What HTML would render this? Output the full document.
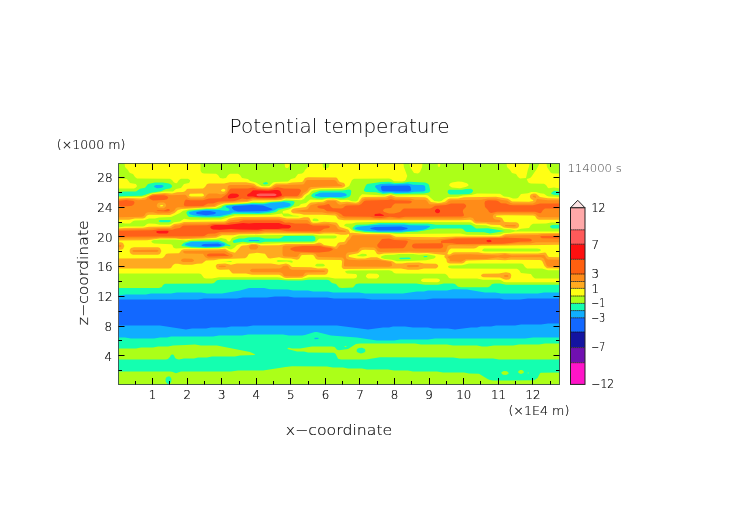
<!DOCTYPE html>
<html><head><meta charset="utf-8"><title>Potential temperature</title>
<style>
html,body{margin:0;padding:0;background:#fff;width:752px;height:532px;overflow:hidden}
svg{display:block;position:absolute;left:0;top:0}
#txt{will-change:transform}
text{font-family:"DejaVu Sans","Liberation Sans",sans-serif;font-weight:200}
</style></head><body>
<svg width="752" height="532" viewBox="0 0 752 532">
<rect width="752" height="532" fill="#fff"/>
<defs><clipPath id="pc"><rect x="118.5" y="163.5" width="441" height="221"/></clipPath></defs>
<g id="field" clip-path="url(#pc)">
<rect x="118.5" y="163.5" width="441.1" height="221.0" fill="#1268ff"/>
<path fill="#10aeff" fill-rule="evenodd" d="M118.0 163.0 560.1 163.0 560.1 298.5 528.0 298.5 520.0 299.5 504.0 299.5 500.0 298.6 495.0 298.5 433.0 298.5 425.0 299.5 372.0 299.5 364.0 298.5 334.0 298.5 327.0 297.5 294.0 297.5 288.0 296.5 275.0 296.5 267.0 297.5 243.0 297.5 237.0 298.5 204.0 298.5 198.0 299.5 118.0 299.5ZM203.0 210.9 197.1 212.0 195.8 213.0 197.1 214.0 206.0 215.2 214.0 214.3 216.2 213.0 215.0 211.9 210.0 211.0ZM252.0 205.0 234.0 206.0 232.0 207.0 231.9 208.0 234.0 210.3 238.0 211.4 266.0 211.0 271.2 210.0 272.7 209.0 263.0 205.5ZM375.0 226.9 370.5 228.0 370.5 229.0 378.0 230.4 397.0 230.4 402.0 230.3 407.5 229.0 407.5 228.0 407.0 227.8 401.0 226.6ZM382.0 185.7 380.9 187.0 381.5 190.0 382.5 191.0 384.0 191.3 408.0 191.4 410.4 191.0 411.2 190.0 410.6 187.0 409.8 186.0 408.0 185.4ZM204.0 243.9 201.4 245.0 201.9 246.0 206.0 246.5 218.0 246.3 220.3 246.0 222.0 245.0 218.0 243.6ZM544.5 324.0 548.0 323.5 560.1 323.5 560.1 385.0 118.0 385.0 118.0 325.5 160.0 325.5 186.0 329.5 192.0 328.5 206.0 328.5 211.0 327.5 226.0 327.5 231.0 326.5 247.0 326.5 253.0 325.5 332.0 325.5 337.0 325.6 368.0 329.4 383.0 327.5 389.0 327.4 393.0 326.5 405.0 326.5 413.0 327.5 428.0 327.5 433.0 328.5 448.0 328.5 455.0 329.5 471.0 327.5 477.0 327.4 481.0 326.5 491.0 326.5 496.0 325.5 515.0 325.5 521.0 324.5 541.0 324.5Z"/>
<path fill="#14ffb0" fill-rule="evenodd" d="M118.0 163.0 560.1 163.0 560.1 292.5 544.0 292.5 538.0 293.5 501.0 293.5 495.0 292.5 485.0 292.4 467.0 289.6 453.0 289.3 447.0 290.4 428.0 290.5 424.0 291.4 417.0 291.6 403.0 293.5 365.0 293.5 359.0 292.5 333.0 292.5 328.0 291.5 313.0 291.5 308.0 290.5 293.0 290.4 288.0 289.4 270.0 289.3 264.0 288.0 252.0 288.0 249.0 288.1 240.0 290.4 222.0 293.5 207.0 293.5 201.0 292.5 177.0 292.5 171.0 293.5 151.0 293.5 146.0 294.5 126.0 294.5 118.0 295.5ZM156.0 184.9 154.1 186.0 154.2 187.0 157.0 188.2 161.0 188.1 163.1 187.0 163.6 186.0 162.0 184.9ZM284.0 202.0 272.0 202.7 264.0 204.3 252.0 203.9 233.0 205.1 226.1 206.0 225.7 207.0 229.0 208.7 229.7 210.0 228.0 210.9 219.0 209.9 205.0 209.8 194.0 211.0 189.5 212.0 188.8 213.0 190.0 214.3 193.0 215.3 201.0 216.2 208.0 216.4 219.8 216.0 229.7 214.0 233.0 212.4 258.0 212.9 268.0 212.1 274.0 210.5 278.0 208.3 287.3 207.0 289.9 206.0 290.8 205.0 290.5 204.0 289.0 202.9ZM320.0 192.8 315.0 194.8 315.1 196.0 321.0 197.1 341.0 197.1 345.9 196.0 347.1 195.0 345.0 193.3 341.0 192.5 323.0 192.4ZM375.0 225.0 358.0 226.7 354.9 228.0 355.2 229.0 357.0 229.6 365.0 230.8 379.0 231.7 401.0 231.8 423.0 229.7 425.8 229.0 429.5 227.0 430.2 226.0 427.0 225.4 410.0 225.2 404.0 224.4 381.0 224.4ZM381.0 183.9 376.0 185.3 375.1 186.0 375.1 187.0 378.8 191.0 383.0 192.7 391.0 192.3 396.0 192.9 409.0 192.8 414.0 191.8 423.0 191.6 424.8 191.0 425.4 190.0 425.1 186.0 423.0 184.9 413.0 184.7 408.0 183.6 394.0 184.2 389.0 183.5ZM490.0 230.7 489.2 231.0 491.6 231.0 491.0 230.8ZM192.0 241.8 186.0 243.6 184.8 245.0 191.0 246.4 206.0 247.3 219.0 247.1 223.4 246.0 224.9 245.0 224.7 244.0 224.0 243.6 218.0 241.7ZM250.0 239.9 249.0 240.0 248.7 241.0 259.5 241.0 259.0 240.0ZM314.7 332.0 317.0 331.9 331.0 335.4 357.0 337.6 377.0 340.5 394.0 340.5 400.0 339.5 428.0 339.5 435.0 338.5 525.0 338.5 533.0 337.5 560.1 337.5 560.1 385.0 118.0 385.0 118.0 337.5 125.0 337.5 131.0 338.5 154.0 338.5 160.0 337.5 167.0 337.4 171.0 336.5 213.0 336.5 219.0 335.5 242.0 335.5 248.0 334.5 283.0 334.5 289.0 335.5 302.0 335.5 305.0 335.1ZM315.0 337.8 314.5 338.0 314.5 339.0 315.0 339.2 318.5 339.0 318.5 338.0 318.0 337.8Z"/>
<path fill="#acff18" fill-rule="evenodd" d="M118.0 163.0 560.1 163.0 560.1 191.6 554.0 190.7 551.2 193.0 551.4 194.0 554.4 195.0 560.1 195.3 560.1 224.8 552.0 224.9 550.1 226.0 550.1 227.0 552.0 228.4 560.1 228.5 560.1 284.8 506.0 284.8 500.0 283.6 495.0 283.5 492.0 284.0 490.0 286.2 488.0 287.2 461.0 287.2 458.0 286.8 455.0 284.0 453.0 283.5 444.0 283.5 438.0 284.7 425.0 284.8 416.0 283.5 359.0 283.5 356.0 284.0 353.0 287.6 342.0 288.0 339.0 287.6 336.0 284.0 332.0 283.0 329.0 280.2 327.0 279.8 308.0 279.8 302.0 280.6 288.0 280.6 278.0 279.8 220.0 279.8 217.0 280.2 214.0 283.0 212.0 283.5 165.0 283.7 163.0 285.0 161.9 287.0 159.0 288.0 118.0 288.0 118.0 226.0 119.0 226.0 118.0 225.7 118.0 196.2 142.0 195.8 151.0 192.7 161.0 191.2 166.0 188.9 170.0 188.4 171.9 187.0 172.1 186.0 171.0 184.4 169.0 183.6 163.0 182.4 155.0 182.4 148.0 184.0 145.0 187.7 140.0 188.7 136.0 191.4 124.0 191.6 118.0 192.3ZM263.0 182.9 263.4 184.0 265.0 184.4 267.6 184.0 268.1 183.0 266.0 182.1ZM284.0 200.8 281.0 201.5 272.0 201.7 263.0 203.2 252.0 202.9 248.0 203.6 226.0 204.9 223.1 206.0 221.0 208.1 216.0 208.9 207.0 208.9 189.0 210.6 187.0 211.4 186.3 213.0 187.8 216.0 189.4 217.0 203.0 217.6 220.0 217.5 234.0 214.0 258.0 214.1 269.0 213.5 276.0 211.9 279.0 209.8 290.0 207.5 293.4 205.0 294.8 202.0 293.0 200.9ZM346.0 190.0 342.0 190.5 320.0 190.7 313.7 193.0 312.0 194.3 311.1 196.0 313.0 197.4 317.0 198.5 322.0 198.6 330.0 197.8 344.0 198.4 349.1 197.0 350.8 195.0 351.3 191.0 350.6 190.0 349.0 189.6ZM381.0 181.9 367.0 184.0 365.5 186.0 363.9 190.0 364.0 191.0 366.0 192.1 376.0 192.3 383.0 194.0 391.0 193.3 395.0 194.0 400.0 194.1 424.0 193.4 429.0 192.4 430.3 191.0 429.0 185.0 428.0 183.8 425.0 182.5 409.0 181.8 403.0 182.8 395.0 182.9 389.0 181.8ZM466.0 189.0 462.0 189.8 449.0 189.7 448.0 190.4 447.6 192.0 448.0 193.2 450.0 194.4 458.0 194.6 469.0 193.9 471.7 193.0 473.1 191.0 472.9 190.0 471.0 188.7ZM160.0 220.0 158.5 221.0 159.7 222.0 161.0 222.2 169.0 222.2 171.4 221.0 170.0 219.9ZM190.0 240.9 184.0 242.8 181.6 245.0 181.6 246.0 191.0 247.5 205.0 247.9 219.0 247.7 227.0 245.8 229.0 246.3 230.6 246.0 230.0 245.1 228.0 244.6 225.0 242.5 219.0 240.3ZM284.0 235.9 281.0 238.0 279.0 238.5 265.0 238.5 259.0 237.3 248.0 237.4 244.0 238.4 239.0 238.6 234.0 240.0 232.9 241.0 232.9 242.0 234.0 242.9 243.0 241.7 248.0 242.6 254.0 242.2 260.0 242.7 265.0 241.7 312.0 241.4 314.6 241.0 315.3 240.0 315.3 237.0 313.0 235.8ZM379.0 223.0 368.0 224.4 357.0 224.8 355.0 225.6 352.5 228.0 353.0 229.2 356.0 230.6 365.0 231.9 378.0 232.5 401.0 232.7 407.0 231.9 417.0 231.8 436.0 228.5 461.0 228.5 463.0 229.0 465.0 231.2 467.0 232.1 484.0 232.2 490.0 233.5 504.9 231.0 488.0 228.2 476.0 228.4 472.0 225.4 470.0 224.8 436.0 224.8 428.0 223.5 411.0 223.5 404.0 222.9ZM400.0 257.8 399.5 258.0 399.5 259.0 401.0 259.3 410.5 259.0 410.5 258.0 409.0 257.6ZM424.0 255.9 423.5 257.0 424.0 257.2 427.4 257.0 427.0 255.9ZM355.9 344.0 360.0 343.5 415.0 343.5 421.0 344.5 447.0 344.5 453.0 345.5 477.0 345.5 482.0 346.4 487.0 346.5 494.0 345.5 513.0 345.5 519.0 344.5 539.0 344.5 545.0 343.5 560.1 343.5 560.1 359.5 499.0 359.5 493.0 358.5 460.0 358.5 453.0 357.5 380.0 357.3 366.0 359.5 341.0 359.5 338.0 358.8 335.7 354.0 334.0 352.7 308.0 352.5 304.0 351.6 297.0 351.4 287.6 349.0 287.7 348.0 289.0 347.8 292.0 348.5 300.0 348.5 312.0 346.5 332.0 346.5 334.7 347.0 337.0 349.8 339.0 350.3 348.0 349.0ZM359.0 347.9 357.0 349.1 356.6 351.0 357.0 352.0 359.0 353.1 361.0 353.4 363.0 353.1 365.0 352.0 365.4 351.0 365.0 349.0 362.0 347.7ZM185.5 345.0 195.0 344.5 201.0 345.5 217.0 345.6 250.0 351.9 254.4 354.0 255.1 355.0 240.0 355.5 235.0 356.5 212.0 356.5 207.0 357.5 198.0 357.5 194.0 358.4 184.0 358.5 179.0 359.4 176.7 359.0 175.1 358.0 174.0 355.6 173.0 354.6 172.0 354.5 171.0 355.0 169.9 357.0 168.0 358.9 166.0 359.4 118.0 359.5 118.0 348.5 136.0 348.5 141.0 347.5 153.0 347.5 158.0 346.5 168.0 346.5 173.0 345.5ZM344.7 346.0 346.3 346.0 346.4 347.0 344.7 347.0ZM285.5 367.0 292.0 366.3 327.0 366.5 333.0 367.5 343.0 367.5 348.0 368.5 362.0 368.5 367.0 369.5 388.0 369.5 394.0 370.5 408.0 370.5 413.0 371.5 437.0 371.5 443.0 372.5 464.0 372.5 469.0 373.5 479.0 373.7 488.0 379.3 490.0 380.1 493.0 380.5 534.0 380.3 537.5 378.0 540.0 373.3 541.0 372.7 560.1 372.5 560.1 385.0 169.4 385.0 169.4 384.0 171.2 382.0 171.5 379.0 170.4 377.0 169.0 376.3 166.6 377.0 165.5 379.0 165.8 382.0 167.6 384.0 167.6 385.0 118.0 385.0 118.0 371.5 170.0 371.5 172.0 371.7 176.0 373.2 181.0 371.5 231.0 371.5 238.0 370.5 263.0 370.5ZM520.3 370.0 522.0 370.1 523.4 371.0 523.9 372.0 523.5 373.0 521.0 374.1 518.6 373.0 518.1 372.0 518.6 371.0ZM503.9 371.0 507.0 371.3 508.8 373.0 508.2 374.0 506.0 375.0 503.0 374.7 501.2 373.0 501.8 372.0ZM527.5 373.0 528.0 372.6 529.4 373.0 528.0 373.4Z"/>
<path fill="#ffff14" fill-rule="evenodd" d="M124.5 163.0 200.5 163.0 200.6 171.0 202.0 173.0 204.0 173.5 216.0 173.7 218.0 175.0 220.0 178.0 223.0 178.5 226.0 178.0 228.0 175.0 230.0 173.7 238.0 173.7 240.0 175.0 242.0 178.0 247.9 179.0 250.1 181.0 256.0 182.4 261.7 186.0 264.0 186.3 269.2 186.0 273.0 182.5 275.0 181.9 288.0 181.4 291.0 179.0 295.0 178.0 298.0 174.0 302.0 173.4 304.0 172.0 305.0 170.0 308.0 166.9 308.5 163.0 322.5 163.0 323.0 167.0 324.0 168.0 326.0 168.4 328.0 168.0 329.0 167.0 329.5 163.0 403.5 163.0 403.9 167.0 407.3 176.0 405.7 180.0 404.6 181.0 402.0 181.4 394.0 181.2 391.0 179.0 389.0 178.6 354.0 178.7 352.0 180.1 349.2 186.0 344.0 188.7 341.0 189.1 321.0 189.2 313.0 190.5 312.0 191.0 309.0 194.2 306.2 196.0 303.9 199.0 301.0 200.2 286.0 199.5 280.0 200.9 263.0 201.9 253.0 201.7 247.0 203.0 226.0 204.0 223.0 204.7 215.6 208.0 207.0 208.1 189.0 209.5 183.0 210.7 180.0 213.0 171.0 217.1 159.0 217.4 155.0 218.4 149.0 218.6 144.0 220.2 135.0 220.4 133.2 221.0 130.0 223.4 125.0 223.5 118.0 222.3 118.0 197.5 127.0 197.0 141.0 197.1 145.0 196.2 152.0 193.4 165.0 191.6 173.0 191.4 176.0 189.1 181.0 188.0 184.0 184.0 189.0 183.0 190.2 181.0 189.9 180.0 188.0 178.7 181.0 178.7 179.0 180.0 177.0 183.0 176.0 183.3 174.0 182.6 172.0 180.0 170.0 178.7 137.0 178.4 135.0 177.0 133.0 174.0 130.0 173.0 129.0 172.0 128.0 170.0 125.0 166.9ZM284.5 163.0 289.5 163.0 289.3 166.0 288.0 167.9 286.0 167.9 285.1 167.0ZM409.5 163.0 422.5 163.0 422.1 167.0 420.0 172.0 418.0 173.4 414.0 173.0 410.0 167.0ZM437.7 163.0 440.3 163.0 440.2 166.0 439.0 167.2 437.8 166.0ZM506.5 163.0 529.5 163.0 529.2 166.0 527.8 170.0 526.0 178.1 520.0 178.4 518.0 177.0 516.0 174.0 512.0 173.0 510.0 170.0 507.0 167.0ZM539.2 163.0 546.5 163.0 547.0 167.0 551.0 173.0 553.0 173.5 560.1 173.5 560.1 188.5 554.0 187.5 549.0 188.3 548.0 188.0 546.0 185.0 544.0 183.7 531.0 183.5 529.0 183.0 528.0 182.0 526.7 179.0 530.0 178.0 531.2 177.0 536.7 169.0 539.2 164.0ZM118.0 179.0 118.0 178.5 126.9 179.0 130.0 183.0 135.9 184.0 137.1 186.0 136.0 187.6 134.0 188.4 118.0 188.5ZM455.0 182.0 458.0 181.5 462.0 181.8 467.0 183.3 468.8 185.0 467.9 186.0 465.5 187.0 460.0 188.2 452.0 187.4 449.6 186.0 449.1 185.0 450.0 183.6 452.0 182.6ZM531.4 192.0 536.0 191.9 540.0 193.3 544.0 193.7 547.1 196.0 549.0 196.6 560.1 196.9 560.1 222.3 551.0 222.4 546.0 223.5 533.0 223.7 531.0 225.0 529.0 228.0 521.0 228.8 516.0 230.5 510.0 229.3 504.0 229.0 500.0 227.5 491.0 226.8 486.0 225.3 476.0 225.1 471.0 222.5 469.0 222.3 380.0 221.7 356.0 222.4 352.0 223.4 346.0 223.7 344.2 225.0 344.5 226.0 349.0 227.4 352.0 230.2 356.0 231.9 366.0 232.9 390.0 233.3 396.0 234.0 460.0 233.5 467.0 234.7 491.0 235.1 500.0 234.6 504.0 233.1 510.0 232.7 515.0 231.5 560.1 231.5 560.1 270.3 548.0 270.3 542.0 268.6 527.0 268.4 525.0 267.0 523.0 264.0 521.0 263.6 469.0 263.6 462.0 265.3 450.0 265.5 448.3 266.0 448.1 267.0 449.0 268.0 452.0 268.5 517.0 268.7 519.0 270.0 521.0 273.0 530.9 274.0 533.0 277.0 535.0 278.4 560.1 278.5 560.1 282.2 506.0 282.2 504.0 281.9 501.0 280.2 499.0 279.8 483.0 279.8 477.0 278.5 451.0 278.5 449.0 278.0 447.0 275.0 445.0 273.7 396.0 273.5 394.0 273.0 392.0 271.0 389.0 270.3 349.0 270.4 345.5 271.0 345.2 272.0 347.0 273.4 356.0 274.0 357.0 275.2 356.9 277.0 356.0 278.0 354.0 278.5 335.0 278.5 328.0 277.3 309.0 277.3 301.0 279.1 285.0 279.1 280.0 277.5 277.0 277.3 219.0 277.2 212.0 278.5 206.0 278.5 204.0 278.0 201.0 274.0 199.0 273.6 118.0 273.5 118.0 227.4 125.0 226.4 143.0 226.4 144.6 226.0 147.0 224.0 149.0 223.6 155.0 223.7 160.0 224.7 169.0 224.7 171.0 224.1 174.0 222.2 180.0 221.4 184.0 218.7 191.0 219.8 221.0 219.6 235.0 215.5 270.0 215.1 282.0 213.5 283.4 216.0 285.0 216.5 298.0 216.4 299.6 216.0 293.0 215.4 288.0 213.6 283.0 213.5 282.6 212.0 283.2 211.0 289.0 209.6 293.0 207.2 298.9 206.0 301.0 204.0 306.0 203.1 310.0 199.6 322.0 200.1 327.0 198.8 335.0 198.7 340.0 200.0 348.0 199.8 352.0 201.2 356.0 201.4 358.0 200.2 359.4 197.0 362.0 194.3 384.0 195.4 390.0 194.2 396.0 195.4 426.0 195.1 428.0 195.6 434.4 201.0 439.0 201.4 441.5 201.0 444.0 198.9 448.0 197.1 458.0 196.7 463.0 195.4 471.0 195.0 477.0 193.5 500.0 193.7 504.0 196.4 509.0 197.1 513.0 198.4 516.0 198.5 518.0 198.0 521.0 194.0 528.0 193.3ZM362.0 253.7 360.0 254.6 356.4 256.0 363.0 256.6 366.5 256.0 366.8 255.0 366.0 254.0ZM399.0 254.0 394.0 254.7 385.3 255.0 382.0 255.9 380.8 257.0 381.5 258.0 384.9 259.0 392.0 259.8 397.0 261.2 402.0 261.3 426.0 260.3 434.0 258.5 435.8 257.0 435.0 255.7 427.0 254.3 419.0 254.8 413.0 254.0ZM484.0 248.6 482.2 250.0 482.5 251.0 485.0 251.6 538.0 251.6 540.5 251.0 540.8 250.0 540.0 249.0 537.0 248.5ZM282.0 234.9 239.0 235.6 232.0 238.0 230.0 241.2 229.0 241.6 228.0 241.2 226.0 239.0 221.0 238.1 216.0 239.1 192.0 239.5 186.0 240.4 175.0 239.4 160.0 239.4 154.0 240.1 151.3 241.0 152.0 242.6 154.0 243.5 171.0 244.2 172.4 245.0 173.1 247.0 174.0 248.0 176.0 248.5 185.0 247.9 205.0 248.6 218.0 248.4 226.0 247.4 229.0 249.0 231.0 249.4 234.0 248.0 237.0 245.1 242.0 243.6 247.0 243.8 254.0 243.1 260.0 244.0 286.0 242.9 313.0 242.8 316.0 242.1 318.8 239.0 320.0 238.6 334.0 238.5 336.0 238.0 336.8 237.0 336.5 236.0 335.0 235.5 319.0 235.6 313.0 234.6ZM314.0 218.6 313.0 219.1 312.5 220.0 313.0 221.1 317.0 221.3 318.2 221.0 318.8 220.0 317.0 218.7ZM220.0 260.9 219.0 261.0 226.0 261.3 230.0 262.1 231.1 262.0 232.0 261.0ZM278.0 260.0 276.5 261.0 278.0 262.1 287.0 261.5 292.0 262.7 292.8 262.0 292.4 261.0 291.0 260.5ZM317.0 263.7 315.2 265.0 315.5 266.0 317.0 266.5 323.0 266.5 324.6 266.0 324.8 265.0 323.0 263.7ZM367.1 274.0 369.0 273.6 377.0 273.7 378.9 275.0 379.2 276.0 378.9 277.0 377.0 278.4 368.0 278.4 366.1 277.0 365.8 276.0ZM422.1 279.0 424.0 278.5 437.0 278.5 439.0 279.0 439.9 280.0 439.9 281.0 438.4 282.0 437.0 282.2 423.0 282.1 421.1 281.0 421.1 280.0Z"/>
<path fill="#ffaa20" fill-rule="evenodd" d="M305.0 178.0 308.0 177.3 336.0 177.5 337.0 178.0 339.0 181.3 340.0 182.0 344.0 183.0 345.2 185.0 345.1 186.0 344.0 187.1 342.0 187.8 321.0 187.9 312.0 188.9 310.1 190.0 308.0 192.6 304.2 195.0 302.0 197.7 299.0 198.7 285.0 198.6 281.0 199.9 278.0 200.2 253.0 200.4 247.0 202.1 224.0 203.4 219.1 205.0 215.0 207.1 181.8 209.0 177.9 210.0 174.6 213.0 170.0 215.0 149.0 214.8 147.0 215.6 145.0 217.7 143.0 218.4 135.0 218.6 129.0 219.8 118.0 219.8 118.0 198.5 127.0 197.9 141.0 198.4 145.0 197.4 152.6 194.0 165.0 192.9 172.0 193.5 177.0 192.3 183.0 192.1 185.0 191.2 187.0 189.0 188.0 188.7 203.0 188.4 205.0 187.0 207.0 184.0 209.0 183.6 224.0 183.5 230.0 182.3 246.0 182.3 254.0 183.8 257.0 186.1 261.0 187.2 269.0 187.4 271.0 186.8 274.0 184.4 276.0 183.6 287.0 183.5 292.0 182.4 302.0 182.0 303.0 181.3ZM161.0 204.9 159.6 206.0 161.0 206.5 163.4 206.0 162.6 205.0ZM190.0 193.8 189.0 195.0 189.3 196.0 191.0 196.6 202.0 196.6 203.7 196.0 204.0 195.0 203.0 193.8 202.0 193.6ZM223.0 188.7 221.1 190.0 221.1 191.0 223.0 191.8 225.0 191.3 225.4 190.0 225.0 189.2ZM531.6 194.0 534.0 193.5 536.0 193.8 540.0 197.0 548.0 198.3 560.1 198.5 560.1 219.8 539.0 219.7 537.0 219.0 535.0 216.0 533.0 215.4 504.0 215.3 497.0 215.5 495.6 216.0 496.4 217.0 500.0 217.3 502.0 218.0 504.0 221.5 505.0 222.1 516.0 222.3 518.0 223.0 519.2 225.0 518.7 227.0 517.0 228.2 514.0 228.5 504.0 227.6 500.0 224.9 491.0 224.7 486.0 223.6 476.0 223.4 474.0 222.4 472.0 220.5 470.0 219.8 460.0 220.2 344.0 220.2 339.0 219.6 338.0 219.0 336.0 216.0 335.0 215.5 322.0 214.8 304.0 214.7 300.0 213.7 293.0 213.2 291.4 212.0 291.0 211.0 292.0 209.6 294.0 208.6 306.0 207.0 309.0 203.7 311.0 202.4 323.0 201.7 327.0 199.8 333.0 199.5 336.0 199.8 341.0 202.2 347.0 201.8 356.0 202.8 358.5 202.0 362.0 197.5 365.0 196.9 385.0 196.8 391.0 195.1 396.0 196.8 425.0 197.3 427.2 198.0 431.0 202.1 438.0 202.9 441.0 202.7 445.0 201.7 448.0 199.3 450.0 198.6 458.0 198.4 464.0 197.3 496.0 196.8 508.0 198.8 512.0 201.6 529.0 201.7 533.4 201.0 533.0 200.0 531.0 199.0 529.8 197.0 530.3 195.0ZM241.2 217.0 279.0 216.8 287.0 218.5 299.0 218.5 304.0 217.3 308.0 217.3 309.4 218.0 311.4 222.0 313.0 222.7 317.0 222.8 324.0 221.7 336.0 222.5 337.0 223.0 339.9 227.0 348.0 229.4 349.3 231.0 350.0 233.1 352.0 232.8 366.0 234.1 390.0 234.3 396.0 236.7 439.0 237.2 456.0 236.4 499.0 236.4 501.0 236.1 505.0 234.2 514.0 233.6 560.1 232.9 560.1 244.8 482.0 245.8 479.0 246.1 476.0 248.0 474.0 248.5 451.0 248.6 449.0 250.0 447.3 254.0 448.0 254.5 450.0 254.4 453.0 252.4 455.0 252.2 478.0 252.2 483.0 253.2 492.0 253.5 505.0 252.9 511.0 253.5 538.0 253.5 545.0 252.5 546.0 253.0 548.0 256.3 549.0 257.0 560.1 257.2 560.1 268.5 547.0 268.2 544.5 266.0 542.0 260.7 540.0 259.9 511.0 259.8 505.0 260.2 496.0 259.8 468.0 260.5 466.0 260.8 464.0 262.7 462.0 263.4 450.0 263.5 448.0 263.0 446.9 262.0 446.3 259.0 444.3 257.0 444.8 255.0 444.0 254.9 427.0 252.9 419.0 253.3 409.0 252.7 384.0 253.5 379.0 254.6 377.0 254.0 375.0 250.8 374.0 250.0 365.0 249.8 362.0 250.0 358.0 253.2 349.2 255.0 348.3 256.0 349.4 257.0 357.0 258.5 365.0 258.5 371.0 257.2 377.0 257.3 382.0 259.4 392.0 260.9 396.0 263.5 402.0 263.6 407.0 262.7 419.0 262.5 424.0 263.5 436.0 263.7 437.9 265.0 438.2 266.0 437.9 267.0 436.0 268.4 424.0 268.6 418.0 269.8 408.0 269.8 401.0 268.5 344.0 268.9 343.0 268.7 341.7 267.0 342.1 261.0 340.8 260.0 318.0 259.7 316.0 259.0 314.0 255.7 313.0 255.0 311.0 254.8 302.0 255.0 301.0 255.7 299.0 259.0 297.0 259.7 291.0 258.5 284.0 258.3 279.0 257.2 270.0 258.5 268.0 258.0 265.0 253.7 257.0 252.8 249.0 253.7 247.0 257.0 245.0 258.3 219.0 259.2 214.0 260.2 206.0 260.4 202.0 263.4 197.0 263.7 192.0 264.8 183.0 264.8 178.0 263.7 175.0 263.7 173.0 265.0 171.0 268.0 169.0 268.5 118.0 268.5 118.0 258.5 162.0 258.3 164.0 257.0 166.0 254.0 168.0 253.5 179.0 253.2 181.7 250.0 184.0 249.2 218.0 249.2 225.0 248.8 230.0 251.6 235.0 252.7 241.1 246.0 243.0 245.4 247.0 245.3 251.7 244.0 256.0 244.1 261.0 245.4 279.0 245.3 286.0 244.1 314.0 244.0 319.0 242.5 321.0 243.0 324.0 245.1 335.0 246.7 336.2 246.0 338.0 243.0 340.0 242.3 344.0 242.0 345.0 241.3 346.9 238.0 349.1 236.0 349.0 234.1 346.0 234.7 341.0 234.8 334.0 233.5 324.0 233.6 319.0 234.1 312.0 233.5 265.0 233.5 259.0 234.1 239.0 234.2 233.0 235.2 222.0 235.3 216.0 237.8 203.0 238.5 182.0 239.2 176.0 238.5 160.0 238.4 147.0 240.2 118.0 240.4 118.0 228.5 125.0 227.9 143.0 227.8 149.0 226.8 170.0 226.5 174.0 224.0 180.0 223.2 184.0 221.9 224.0 221.5 226.0 221.0 229.0 218.8 235.0 217.4ZM118.0 243.0 118.0 242.2 121.0 242.2 123.0 243.0 124.4 246.0 123.0 249.0 121.0 249.7 118.0 249.8ZM131.0 248.0 134.0 247.2 158.0 247.3 160.0 248.0 161.4 251.0 160.0 254.0 158.0 254.7 133.0 254.7 131.0 254.0 129.7 252.0 129.7 250.0ZM217.1 264.0 225.0 263.6 231.0 264.8 237.0 263.6 271.0 263.5 279.0 264.8 286.0 263.6 289.0 264.4 292.0 267.0 311.0 267.3 318.0 268.5 326.0 268.2 327.7 269.0 328.4 271.0 327.0 274.0 325.0 274.7 308.0 274.8 302.0 277.8 286.0 277.9 284.0 277.6 281.0 275.5 279.0 274.8 252.0 274.7 246.0 273.6 233.0 273.4 232.0 273.0 229.0 269.4 220.0 269.8 217.0 269.0 215.6 266.0ZM501.4 273.0 506.0 272.3 510.0 273.0 511.3 275.0 510.8 278.0 509.0 279.5 506.0 279.7 504.0 279.3 500.0 277.4 484.0 277.2 482.6 277.0 481.1 276.0 481.1 275.0 483.0 273.7 499.0 273.5Z"/>
<path fill="#ff8c18" fill-rule="evenodd" d="M307.2 180.0 334.0 179.9 336.0 180.7 338.0 184.0 341.4 185.0 342.1 186.0 311.0 187.1 308.9 188.0 307.0 191.1 303.3 193.0 301.0 196.2 297.0 197.6 285.0 197.6 280.0 199.0 276.0 199.4 252.0 199.2 247.0 201.1 239.0 201.3 222.0 202.7 218.0 203.7 214.0 206.1 208.0 206.2 202.0 207.1 186.0 207.6 178.0 207.3 176.0 208.0 174.0 211.1 169.0 213.3 158.0 213.5 153.0 212.3 148.0 212.3 146.0 213.0 144.0 216.0 142.0 216.7 118.0 217.2 118.0 199.5 127.0 198.9 133.0 199.3 138.0 200.3 145.0 199.8 146.7 199.0 147.6 197.0 152.0 194.8 164.0 194.1 171.0 195.3 185.0 194.7 186.0 195.2 188.0 197.7 190.0 198.4 203.0 198.4 205.0 197.6 207.0 194.8 209.0 193.6 217.0 193.5 221.0 194.4 225.0 193.5 227.3 191.0 227.9 186.0 230.0 184.9 248.0 184.9 253.0 185.4 258.0 187.8 263.0 188.5 269.0 188.4 272.0 187.7 275.0 185.8 277.0 185.3 303.0 184.5 304.0 184.0 306.0 180.7ZM158.0 203.0 157.0 204.4 156.7 206.0 157.3 207.0 159.0 208.2 164.0 208.2 166.2 206.0 165.8 204.0 164.0 202.5 160.0 202.4ZM532.6 196.0 534.0 195.5 535.8 196.0 536.0 197.9 533.1 197.0ZM388.9 197.0 391.0 196.4 395.0 198.4 410.0 198.5 415.0 199.7 425.0 199.8 427.0 200.8 429.0 204.0 431.0 204.6 445.0 203.4 447.0 202.7 449.0 200.8 451.0 200.3 481.0 199.8 488.0 198.5 496.0 198.5 502.0 199.9 507.0 200.4 510.6 203.0 513.0 203.5 533.0 203.4 535.7 202.0 537.0 199.0 548.0 200.2 560.1 200.2 560.1 217.2 540.0 217.2 538.0 216.5 535.4 214.0 533.0 213.5 497.0 213.5 495.0 213.8 493.3 215.0 492.8 216.0 493.2 218.0 495.0 219.6 499.5 220.0 500.8 221.0 500.0 222.0 499.0 222.2 491.0 222.2 476.0 221.5 475.0 221.0 473.0 218.0 470.0 217.3 461.0 218.5 405.0 218.5 399.0 219.0 390.0 218.5 379.0 219.2 370.0 218.5 345.0 218.5 340.0 217.2 337.0 214.4 335.0 213.6 328.0 213.5 322.0 212.2 304.0 212.1 294.0 211.0 307.0 209.5 308.0 209.0 310.0 205.8 311.0 205.0 318.0 203.6 324.0 203.2 328.0 200.8 335.4 201.0 338.0 204.0 340.0 204.7 347.0 203.5 356.0 204.1 359.0 203.4 362.0 199.9 365.0 198.6 385.0 198.5 387.0 198.2ZM240.6 219.0 244.0 218.5 278.0 218.5 286.0 220.2 307.0 219.9 308.0 220.2 311.0 223.4 313.0 224.1 328.0 223.6 335.0 225.0 336.0 225.7 338.0 229.0 339.0 229.6 346.4 231.0 345.0 232.1 325.0 231.8 318.0 232.8 265.0 231.9 259.0 232.8 221.0 233.6 216.0 236.3 208.0 236.6 203.0 237.4 181.0 238.2 161.0 237.6 148.0 238.5 118.0 238.5 118.0 229.5 143.0 229.1 158.0 227.9 171.0 228.1 175.0 225.5 179.0 225.2 184.0 223.6 207.0 223.5 213.0 222.9 225.0 222.8 230.0 220.4ZM505.4 225.0 515.0 224.9 516.4 226.0 514.0 226.5 506.0 226.2 504.9 226.0ZM538.0 235.0 542.0 234.2 560.1 234.1 560.1 242.2 536.0 242.2 530.0 243.4 517.0 243.6 504.0 244.6 483.0 244.7 473.0 245.4 450.0 245.0 447.7 246.0 446.0 251.2 445.0 252.0 443.0 252.2 409.0 251.4 380.0 252.1 378.0 251.4 376.0 248.7 374.0 247.4 363.0 247.2 360.0 248.0 358.0 251.0 357.0 251.5 348.0 252.5 347.0 253.0 345.7 255.0 346.0 258.0 347.0 259.1 349.0 259.7 359.0 260.3 377.0 259.8 391.0 261.9 392.0 264.5 391.8 266.0 389.0 266.7 345.0 266.6 344.0 266.0 343.9 265.0 344.4 260.0 343.1 258.0 342.0 257.5 319.0 257.1 317.0 256.3 315.7 254.0 313.0 253.2 301.0 253.1 299.2 254.0 298.0 256.3 296.0 257.1 285.0 256.6 283.3 256.0 282.5 254.0 282.6 247.0 283.5 246.0 285.0 245.7 319.0 244.6 324.0 246.1 330.0 246.8 336.0 248.9 337.0 248.8 340.0 245.0 344.0 244.7 346.0 244.0 348.0 240.7 350.1 239.0 351.8 236.0 353.0 235.3 389.0 235.6 391.0 236.0 393.0 237.7 395.0 238.4 406.0 238.6 412.0 239.7 435.0 239.8 456.0 237.4 499.0 237.3 501.8 237.0 506.0 235.5ZM118.0 245.0 120.7 245.0 121.7 246.0 120.6 247.0 118.0 247.2ZM251.2 245.0 256.0 245.0 257.8 246.0 258.2 247.0 257.8 248.0 256.0 249.5 251.0 249.5 250.0 249.0 248.8 247.0 249.2 246.0ZM133.3 250.0 156.0 249.8 158.0 250.1 158.7 251.0 157.0 252.1 135.0 252.1 133.0 251.8 132.3 251.0ZM183.6 251.0 225.0 250.5 228.6 253.0 232.0 254.3 233.0 256.0 232.0 257.1 230.0 257.8 208.0 258.4 205.1 257.0 203.0 253.8 185.0 253.4 184.0 253.1 183.1 252.0ZM452.8 255.0 455.0 254.5 470.0 254.3 498.0 255.4 505.0 254.2 512.0 255.4 543.6 255.0 545.0 255.8 546.0 258.0 548.0 259.5 560.1 259.8 560.1 266.7 549.0 266.7 547.0 266.0 544.0 259.0 543.0 257.9 541.0 257.2 511.0 257.2 505.0 258.4 498.0 257.2 486.0 259.0 466.0 259.2 461.0 261.7 450.0 261.3 449.5 261.0 449.7 259.0 447.2 257.0ZM182.1 259.0 184.0 258.5 192.0 258.7 193.9 260.0 193.9 261.0 192.0 262.1 183.0 262.1 181.1 261.0 181.1 260.0ZM407.9 265.0 417.0 264.9 418.1 265.0 419.5 266.0 418.0 267.1 409.0 267.2 407.7 267.0 406.5 266.0ZM218.6 266.0 222.0 265.5 226.1 266.0 225.2 267.0 222.0 267.2 219.4 267.0ZM283.2 266.0 287.0 265.5 288.0 266.0 290.0 269.0 292.0 269.7 312.0 269.9 324.0 270.5 325.6 271.0 324.0 272.1 306.0 272.5 305.0 273.0 302.8 276.0 298.0 276.4 285.0 276.3 284.0 275.8 282.0 273.0 280.0 272.3 253.0 272.2 251.6 272.0 250.1 271.0 250.1 270.0 252.0 268.7 279.0 268.5 281.0 268.0ZM504.8 275.0 507.6 275.0 508.7 276.0 507.7 277.0 505.0 277.0 503.6 276.0Z"/>
<path fill="#ff6018" fill-rule="evenodd" d="M250.5 188.0 253.0 187.6 258.0 189.1 268.0 189.5 272.0 189.1 276.0 187.5 278.0 187.3 284.0 188.5 299.0 188.7 300.9 190.0 301.1 191.0 298.8 195.0 297.5 196.0 296.0 196.3 285.0 196.3 280.0 197.8 275.0 198.5 258.0 198.5 253.0 197.9 247.0 199.2 242.0 198.6 234.6 201.0 221.0 201.4 218.0 201.8 213.0 203.4 208.0 203.6 203.0 206.0 186.0 206.2 184.7 206.0 183.8 205.0 184.6 201.0 186.0 199.6 190.0 200.2 203.0 200.2 209.0 198.6 221.0 198.3 227.0 194.1 230.0 189.1 231.0 188.6 248.0 188.5ZM151.3 196.0 155.0 195.3 164.0 195.3 166.8 196.0 168.1 197.0 168.1 198.0 167.0 199.2 164.0 200.1 153.0 200.4 150.0 199.1 149.1 198.0 149.5 197.0ZM387.6 200.0 391.0 199.3 395.0 200.3 409.0 200.4 411.5 201.0 411.8 202.0 411.0 203.0 409.0 203.5 395.0 203.6 393.0 205.0 391.0 208.0 385.0 208.6 383.1 210.0 383.1 211.0 384.2 212.0 389.0 213.5 394.0 213.4 400.0 212.1 403.0 209.0 404.0 208.6 430.0 208.4 432.0 207.8 435.0 205.7 446.0 205.1 451.0 203.6 464.0 203.6 465.9 205.0 466.2 206.0 465.9 207.0 463.0 210.0 462.9 212.0 464.0 215.0 463.6 216.0 462.0 216.6 405.0 216.7 399.0 217.7 390.0 216.7 381.0 217.9 375.0 217.8 370.0 216.8 345.0 216.6 343.1 216.0 341.0 213.9 338.0 212.4 335.0 211.7 327.0 211.3 324.0 209.0 319.0 208.3 317.2 207.0 318.0 205.7 324.0 205.2 328.0 203.9 329.0 204.1 331.0 207.0 333.0 208.3 341.0 208.4 343.0 208.0 345.1 206.0 347.0 205.4 359.0 205.2 361.4 204.0 364.1 201.0 366.0 200.4ZM118.0 201.0 126.0 200.1 132.0 200.7 133.5 201.0 134.4 202.0 134.5 203.0 133.3 205.0 131.0 206.1 122.0 206.4 118.0 205.6ZM485.2 201.0 488.0 200.3 496.0 200.4 497.9 201.0 501.0 203.3 506.0 203.6 510.0 204.9 513.0 205.3 533.0 205.2 540.0 203.5 560.1 203.5 560.1 208.5 545.0 208.6 543.0 210.0 541.0 213.0 540.0 213.3 535.0 211.8 532.0 211.7 497.0 211.7 491.0 213.1 489.0 212.0 488.0 210.0 485.0 206.9 484.5 203.0ZM167.6 209.0 169.0 209.1 169.8 210.0 169.5 211.0 167.0 211.6 156.8 211.0 157.0 210.4 158.0 210.2 164.0 210.4ZM240.9 221.0 244.0 220.3 279.0 220.3 281.9 221.0 285.0 222.8 289.0 222.4 295.0 223.5 307.0 223.6 313.0 225.6 328.0 225.5 329.5 226.0 329.8 227.0 329.0 228.0 324.0 228.7 320.6 231.0 318.0 231.4 287.0 231.3 281.0 230.2 265.0 230.3 258.0 231.5 220.0 231.9 215.0 233.4 208.0 233.7 204.2 236.0 202.0 236.2 118.0 236.7 118.0 230.8 152.0 230.3 159.0 229.2 167.0 229.2 172.0 229.8 175.0 228.8 180.0 228.0 182.3 226.0 184.0 225.4 207.0 225.3 213.0 224.0 225.0 223.9 231.0 222.3 238.4 222.0ZM540.9 236.0 560.1 235.7 560.1 238.5 542.0 238.3 540.2 237.0ZM502.2 238.0 505.0 237.6 529.0 238.5 531.0 239.0 531.8 240.0 531.5 241.0 530.0 241.5 520.0 241.8 503.0 243.7 457.0 244.0 452.0 243.3 442.2 243.0 443.2 246.0 442.9 247.0 442.0 248.0 440.0 248.4 415.0 248.4 413.0 248.0 411.8 246.0 413.0 244.0 415.0 243.5 441.0 243.2 441.9 243.0 441.0 242.7 441.0 241.0 443.0 240.3 456.0 238.4ZM382.0 239.0 389.0 238.6 394.0 240.1 406.0 240.4 407.6 241.0 407.9 242.0 405.0 247.0 403.0 248.3 380.0 248.4 377.7 247.0 377.1 245.0ZM315.4 246.0 320.0 246.0 325.0 247.3 330.7 248.0 332.7 249.0 332.5 250.0 329.0 251.4 319.0 252.5 295.0 251.4 291.0 250.0 290.2 249.0 291.0 248.0 295.0 246.8 303.0 246.1ZM252.9 247.0 253.0 246.9 254.1 247.0 253.0 247.0ZM207.7 254.0 210.0 253.5 224.0 253.5 229.4 256.0 209.0 256.6 207.3 256.0 207.0 255.0Z"/>
<path fill="#ff1818" fill-rule="evenodd" d="M274.8 190.0 278.0 189.9 280.2 191.0 282.0 195.0 281.2 196.0 275.0 197.4 264.0 197.5 257.0 197.3 253.0 196.5 248.0 196.5 247.2 196.0 247.1 195.0 248.0 194.0 250.0 193.0 253.0 190.3 268.0 190.7ZM230.0 194.0 232.0 193.5 237.0 193.7 238.9 195.0 238.9 196.0 237.8 197.0 235.0 198.1 229.0 198.4 228.0 198.0 227.8 197.0 228.0 196.0ZM436.3 209.0 438.0 208.7 439.9 210.0 440.0 211.8 439.0 213.0 437.0 213.3 435.1 212.0 435.0 210.6ZM375.1 214.0 380.0 213.6 383.6 215.0 383.8 216.0 375.0 216.1 374.2 215.0ZM254.6 223.0 279.0 223.1 283.0 224.6 289.3 225.0 290.9 226.0 291.0 227.0 289.0 228.5 282.0 228.4 278.0 229.0 263.0 229.1 258.0 229.8 238.0 229.6 231.0 229.0 220.0 229.8 213.0 229.4 211.0 228.4 210.2 227.0 211.1 226.0 215.0 225.0 227.0 224.9 243.0 223.1 249.0 223.5ZM156.9 231.0 167.0 230.8 168.1 231.0 168.8 232.0 167.0 233.4 159.0 233.5 157.0 233.0 156.2 232.0ZM487.1 240.0 490.0 239.8 491.8 241.0 490.9 242.0 488.0 242.2 486.2 241.0Z"/>
<path fill="#ff5a5a" fill-rule="evenodd" d="M257.1 194.0 260.0 193.5 274.0 193.5 275.9 194.0 276.7 195.0 275.0 196.1 259.0 196.2 257.3 196.0 256.3 195.0Z"/>
</g>
<rect x="118.5" y="163.5" width="441.0" height="221.0" fill="none" stroke="#333" stroke-opacity="0.75" stroke-width="1"/>
<path d="M135.5 384.5v-3.5M135.5 163.5v3.5M152.5 384.5v-6.5M152.5 163.5v6.5M169.5 384.5v-3.5M169.5 163.5v3.5M187.5 384.5v-6.5M187.5 163.5v6.5M204.5 384.5v-3.5M204.5 163.5v3.5M221.5 384.5v-6.5M221.5 163.5v6.5M239.5 384.5v-3.5M239.5 163.5v3.5M256.5 384.5v-6.5M256.5 163.5v6.5M273.5 384.5v-3.5M273.5 163.5v3.5M290.5 384.5v-6.5M290.5 163.5v6.5M308.5 384.5v-3.5M308.5 163.5v3.5M325.5 384.5v-6.5M325.5 163.5v6.5M342.5 384.5v-3.5M342.5 163.5v3.5M359.5 384.5v-6.5M359.5 163.5v6.5M377.5 384.5v-3.5M377.5 163.5v3.5M394.5 384.5v-6.5M394.5 163.5v6.5M411.5 384.5v-3.5M411.5 163.5v3.5M429.5 384.5v-6.5M429.5 163.5v6.5M446.5 384.5v-3.5M446.5 163.5v3.5M463.5 384.5v-6.5M463.5 163.5v6.5M480.5 384.5v-3.5M480.5 163.5v3.5M498.5 384.5v-6.5M498.5 163.5v6.5M515.5 384.5v-3.5M515.5 163.5v3.5M532.5 384.5v-6.5M532.5 163.5v6.5M550.5 384.5v-3.5M550.5 163.5v3.5M118.5 370.5h3.5M559.5 370.5h-3.5M118.5 355.5h6.0M559.5 355.5h-6.0M118.5 340.5h3.5M559.5 340.5h-3.5M118.5 326.5h6.0M559.5 326.5h-6.0M118.5 311.5h3.5M559.5 311.5h-3.5M118.5 296.5h6.0M559.5 296.5h-6.0M118.5 281.5h3.5M559.5 281.5h-3.5M118.5 266.5h6.0M559.5 266.5h-6.0M118.5 251.5h3.5M559.5 251.5h-3.5M118.5 236.5h6.0M559.5 236.5h-6.0M118.5 222.5h3.5M559.5 222.5h-3.5M118.5 207.5h6.0M559.5 207.5h-6.0M118.5 192.5h3.5M559.5 192.5h-3.5M118.5 177.5h6.0M559.5 177.5h-6.0" stroke="#000" stroke-width="1" fill="none"/>
<path d="M570.5 207.8L577.75 200.3L585.0 207.8Z" fill="#fce4e4" stroke="#222" stroke-width="1"/>
<rect x="570.5" y="207.8" width="14.5" height="22.0" fill="#ffa8a8"/>
<rect x="570.5" y="229.8" width="14.5" height="14.4" fill="#ff5a5a"/>
<rect x="570.5" y="244.2" width="14.5" height="15.1" fill="#ff1010"/>
<rect x="570.5" y="259.3" width="14.5" height="14.7" fill="#ff6010"/>
<rect x="570.5" y="274.0" width="14.5" height="7.5" fill="#ff8c18"/>
<rect x="570.5" y="281.5" width="14.5" height="6.9" fill="#ffaa20"/>
<rect x="570.5" y="288.4" width="14.5" height="7.6" fill="#ffff14"/>
<rect x="570.5" y="296.0" width="14.5" height="7.4" fill="#acff18"/>
<rect x="570.5" y="303.4" width="14.5" height="7.2" fill="#14ffb0"/>
<rect x="570.5" y="310.6" width="14.5" height="7.2" fill="#10aeff"/>
<rect x="570.5" y="317.8" width="14.5" height="14.2" fill="#1268ff"/>
<rect x="570.5" y="332.0" width="14.5" height="15.6" fill="#1414a0"/>
<rect x="570.5" y="347.6" width="14.5" height="15.1" fill="#7010b0"/>
<rect x="570.5" y="362.7" width="14.5" height="21.7" fill="#ff14c8"/>
<path d="M570.5 229.8H585.0M570.5 244.2H585.0M570.5 259.3H585.0M570.5 274.0H585.0M570.5 281.5H585.0M570.5 288.4H585.0M570.5 296.0H585.0M570.5 303.4H585.0M570.5 310.6H585.0M570.5 317.8H585.0M570.5 332.0H585.0M570.5 347.6H585.0M570.5 362.7H585.0" stroke="#111" stroke-width="1" stroke-dasharray="1.2 0.8" fill="none"/>
<rect x="570.5" y="207.8" width="14.5" height="176.6" fill="none" stroke="#222" stroke-width="1"/>
</svg>
<svg id="txt" width="752" height="532" viewBox="0 0 752 532">
<text x="104.6" y="360.5" font-size="11.8" fill="#000" stroke="#000" stroke-width="0.2">4</text>
<text x="104.6" y="330.8" font-size="11.8" fill="#000" stroke="#000" stroke-width="0.2">8</text>
<text x="97.3" y="301.0" font-size="11.8" fill="#000" textLength="15.2" lengthAdjust="spacingAndGlyphs" stroke="#000" stroke-width="0.2">12</text>
<text x="97.3" y="271.3" font-size="11.8" fill="#000" textLength="15.2" lengthAdjust="spacingAndGlyphs" stroke="#000" stroke-width="0.2">16</text>
<text x="97.3" y="241.6" font-size="11.8" fill="#000" textLength="15.2" lengthAdjust="spacingAndGlyphs" stroke="#000" stroke-width="0.2">20</text>
<text x="97.3" y="211.9" font-size="11.8" fill="#000" textLength="15.2" lengthAdjust="spacingAndGlyphs" stroke="#000" stroke-width="0.2">24</text>
<text x="97.3" y="182.2" font-size="11.8" fill="#000" textLength="15.2" lengthAdjust="spacingAndGlyphs" stroke="#000" stroke-width="0.2">28</text>
<text x="152.6" y="398.8" font-size="11.8" fill="#000" text-anchor="middle" stroke="#000" stroke-width="0.2">1</text>
<text x="187.2" y="398.8" font-size="11.8" fill="#000" text-anchor="middle" stroke="#000" stroke-width="0.2">2</text>
<text x="221.7" y="398.8" font-size="11.8" fill="#000" text-anchor="middle" stroke="#000" stroke-width="0.2">3</text>
<text x="256.3" y="398.8" font-size="11.8" fill="#000" text-anchor="middle" stroke="#000" stroke-width="0.2">4</text>
<text x="290.8" y="398.8" font-size="11.8" fill="#000" text-anchor="middle" stroke="#000" stroke-width="0.2">5</text>
<text x="325.4" y="398.8" font-size="11.8" fill="#000" text-anchor="middle" stroke="#000" stroke-width="0.2">6</text>
<text x="360.0" y="398.8" font-size="11.8" fill="#000" text-anchor="middle" stroke="#000" stroke-width="0.2">7</text>
<text x="394.5" y="398.8" font-size="11.8" fill="#000" text-anchor="middle" stroke="#000" stroke-width="0.2">8</text>
<text x="429.1" y="398.8" font-size="11.8" fill="#000" text-anchor="middle" stroke="#000" stroke-width="0.2">9</text>
<text x="456.3" y="398.8" font-size="11.8" fill="#000" textLength="15.0" lengthAdjust="spacingAndGlyphs" stroke="#000" stroke-width="0.2">10</text>
<text x="490.9" y="398.8" font-size="11.8" fill="#000" textLength="15.0" lengthAdjust="spacingAndGlyphs" stroke="#000" stroke-width="0.2">11</text>
<text x="525.5" y="398.8" font-size="11.8" fill="#000" textLength="15.0" lengthAdjust="spacingAndGlyphs" stroke="#000" stroke-width="0.2">12</text>
<text x="56.8" y="148.9" font-size="12.4" fill="#000" textLength="68.5" lengthAdjust="spacingAndGlyphs" stroke="#000" stroke-width="0.15">(×1000 m)</text>
<text x="508.4" y="414.9" font-size="12.4" fill="#000" textLength="61.0" lengthAdjust="spacingAndGlyphs" stroke="#000" stroke-width="0.15">(×1E4 m)</text>
<text x="229.6" y="133.0" font-size="19.4" fill="#000" textLength="220.0" lengthAdjust="spacingAndGlyphs">Potential temperature</text>
<text x="285.8" y="435.2" font-size="14.6" fill="#000" textLength="106.5" lengthAdjust="spacingAndGlyphs" stroke="#000" stroke-width="0.15">x−coordinate</text>
<text transform="translate(88.4 325.3) rotate(-90)" x="0" y="0" font-size="14.6" fill="#000" stroke="#000" stroke-width="0.15" textLength="105" lengthAdjust="spacingAndGlyphs">z−coordinate</text>
<text x="567.4" y="171.9" font-size="9.8" fill="#444" textLength="54.5" lengthAdjust="spacingAndGlyphs">114000 s</text>
<text x="591.6" y="212.1" font-size="11.8" fill="#000" textLength="14.0" lengthAdjust="spacingAndGlyphs" stroke="#000" stroke-width="0.2">12</text>
<text x="591.6" y="248.5" font-size="11.8" fill="#000" stroke="#000" stroke-width="0.2">7</text>
<text x="591.6" y="278.3" font-size="11.8" fill="#000" stroke="#000" stroke-width="0.2">3</text>
<text x="591.6" y="292.7" font-size="11.8" fill="#000" stroke="#000" stroke-width="0.2">1</text>
<text x="591.6" y="306.6" font-size="11.8" fill="#000" textLength="13.6" lengthAdjust="spacingAndGlyphs" stroke="#000" stroke-width="0.2">−1</text>
<text x="591.6" y="322.1" font-size="11.8" fill="#000" textLength="13.6" lengthAdjust="spacingAndGlyphs" stroke="#000" stroke-width="0.2">−3</text>
<text x="591.6" y="351.3" font-size="11.8" fill="#000" textLength="13.6" lengthAdjust="spacingAndGlyphs" stroke="#000" stroke-width="0.2">−7</text>
<text x="591.6" y="387.6" font-size="11.8" fill="#000" textLength="22.5" lengthAdjust="spacingAndGlyphs" stroke="#000" stroke-width="0.2">−12</text>
</svg>
</body></html>
